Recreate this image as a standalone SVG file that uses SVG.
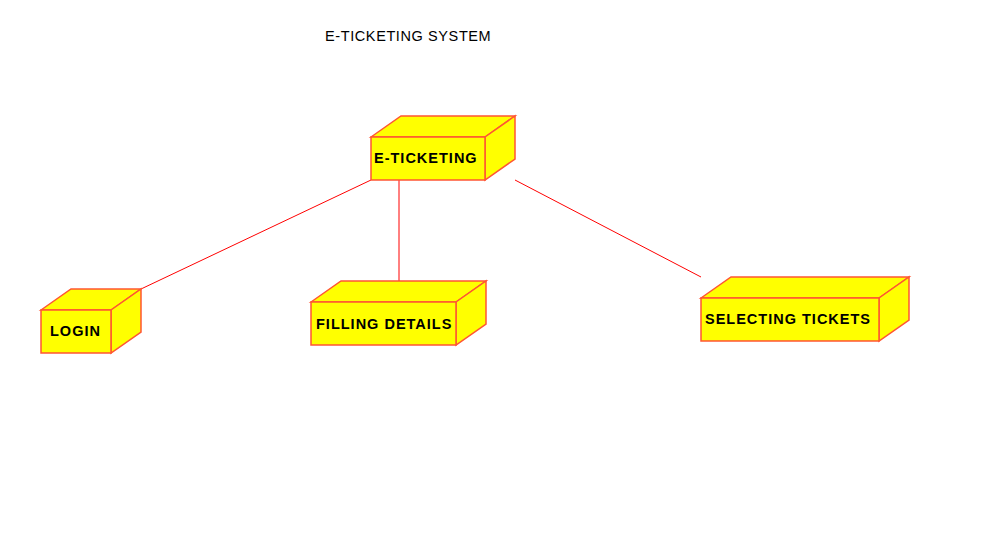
<svg xmlns="http://www.w3.org/2000/svg" width="991" height="543" viewBox="0 0 991 543">
<style>
.box{fill:#FFFF00;stroke:#FF5533;stroke-width:1.5;stroke-linejoin:miter}
.lbl{font-family:"Liberation Sans",Arial,sans-serif;font-weight:bold;font-size:14.5px;letter-spacing:1px;fill:#000}
.title{font-family:"Liberation Sans",Arial,sans-serif;font-size:14.5px;letter-spacing:0.6px;fill:#000}
.conn{stroke:#FF0000;stroke-width:1;fill:none}
</style>
<rect width="991" height="543" fill="#fff"/>
<text class="title" x="325" y="41">E-TICKETING SYSTEM</text>
<g id="connectors">
<line class="conn" x1="371" y1="180" x2="141" y2="289"/>
<line class="conn" x1="399" y1="180" x2="399" y2="281"/>
<line class="conn" x1="515" y1="180" x2="701" y2="277"/>
</g>
<g id="node-eticketing">
<polygon class="box" points="371,137 401,116 515,116 485,137"/>
<polygon class="box" points="485,137 515,116 515,159 485,180"/>
<rect class="box" x="371" y="137" width="114" height="43"/>
<text class="lbl" x="374" y="162.5">E-TICKETING</text>
</g>
<g id="node-login">
<polygon class="box" points="41,310 71,289 141,289 111,310"/>
<polygon class="box" points="111,310 141,289 141,332 111,353"/>
<rect class="box" x="41" y="310" width="70" height="43"/>
<text class="lbl" x="50" y="336">LOGIN</text>
</g>
<g id="node-filling">
<polygon class="box" points="311,302 341,281 486,281 456,302"/>
<polygon class="box" points="456,302 486,281 486,324 456,345"/>
<rect class="box" x="311" y="302" width="145" height="43"/>
<text class="lbl" x="316" y="328.5">FILLING DETAILS</text>
</g>
<g id="node-selecting">
<polygon class="box" points="701,298 731,277 909,277 879,298"/>
<polygon class="box" points="879,298 909,277 909,320 879,341"/>
<rect class="box" x="701" y="298" width="178" height="43"/>
<text class="lbl" x="705" y="324">SELECTING TICKETS</text>
</g>
</svg>
